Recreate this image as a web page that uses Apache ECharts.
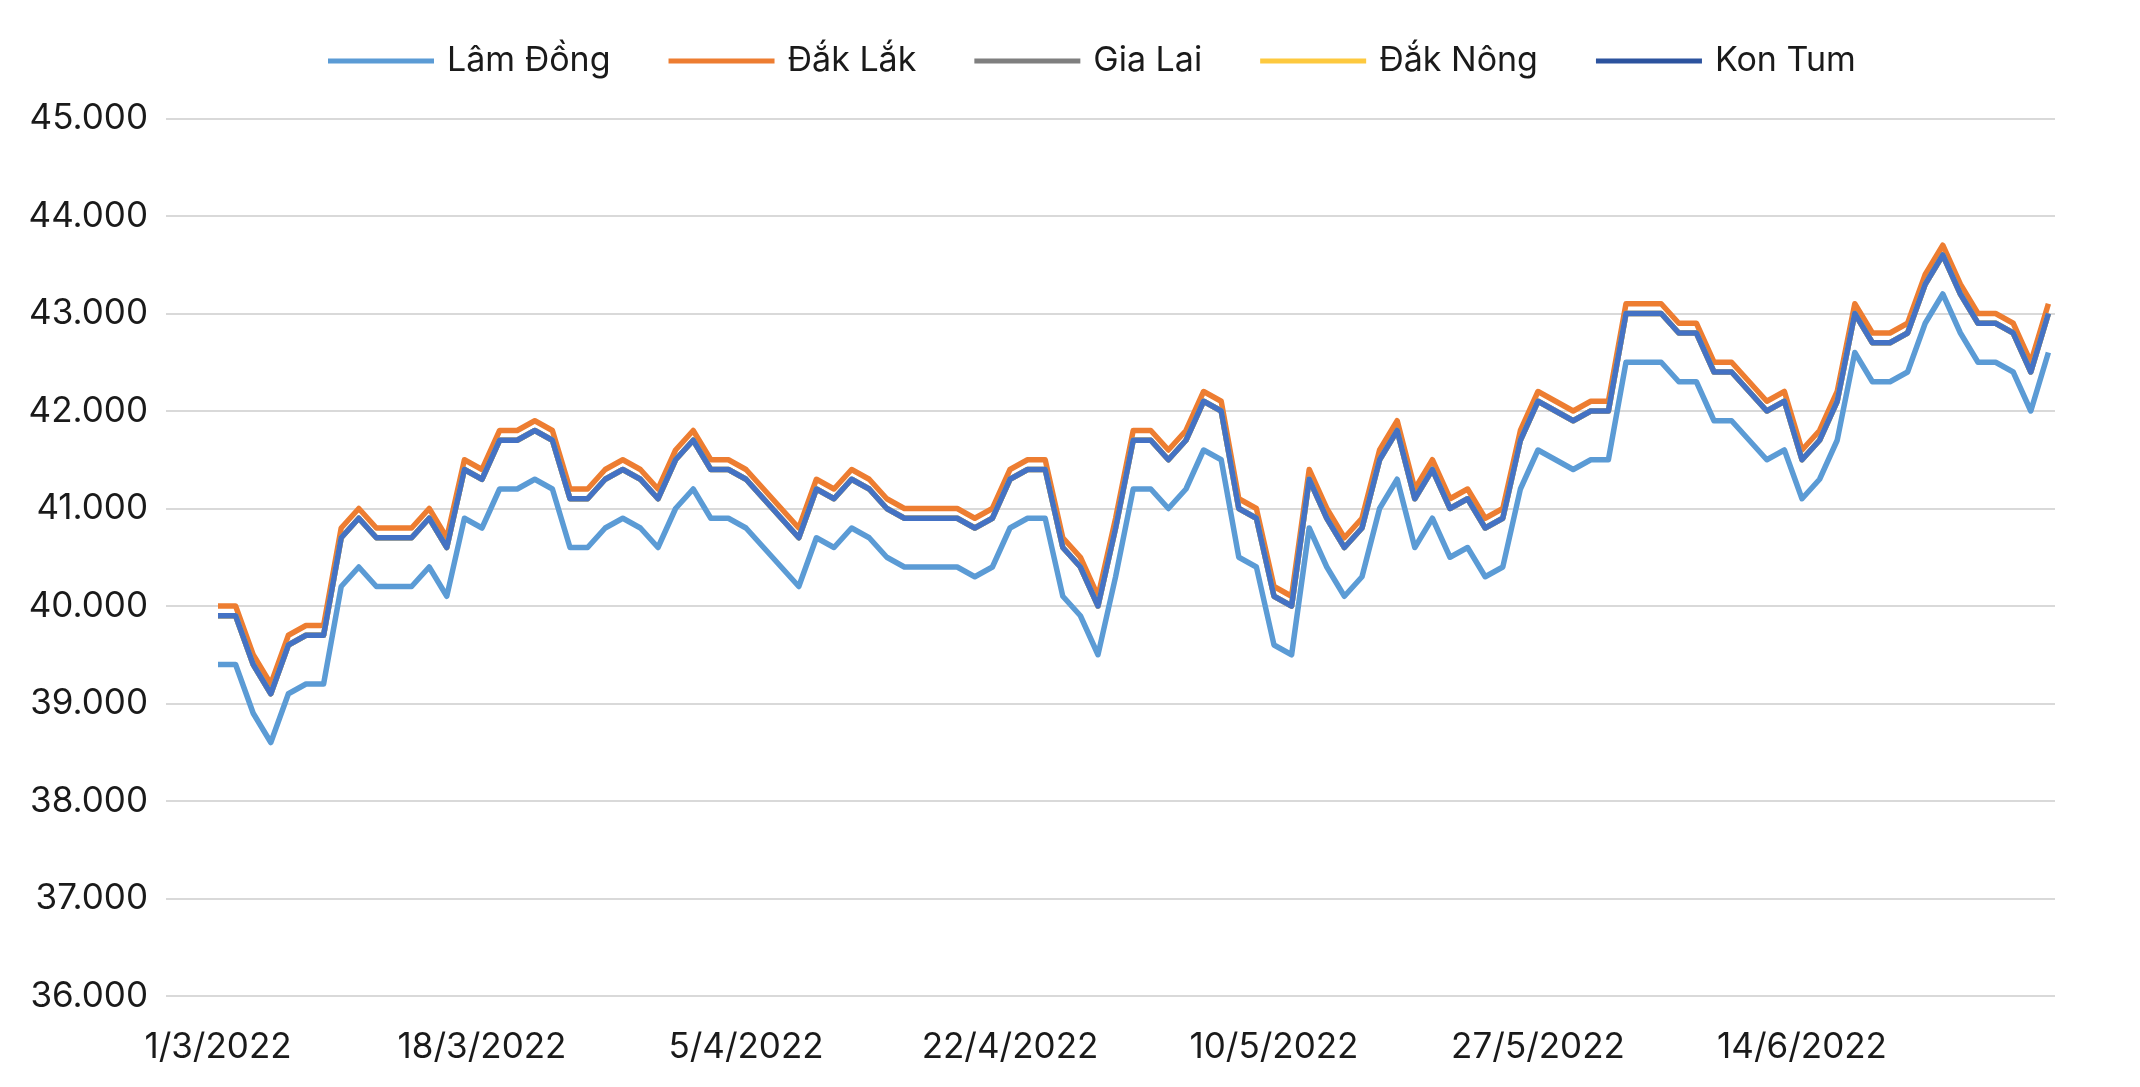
<!DOCTYPE html>
<html>
<head>
<meta charset="utf-8">
<script src="https://cdn.jsdelivr.net/npm/echarts@6/dist/echarts.min.js"></script>
<style>
  html, body { margin: 0; padding: 0; background: #ffffff; }
  #chart { width: 2140px; height: 1087px; }
</style>
</head>
<body>
<div id="chart"></div>
<script>
// Categories: trading days (Mon–Sat), 1/3/2022 – 30/6/2022
var categories = [
  "1/3/2022","2/3/2022","3/3/2022","4/3/2022","5/3/2022","7/3/2022","8/3/2022","9/3/2022","10/3/2022","11/3/2022",
  "12/3/2022","14/3/2022","15/3/2022","16/3/2022","17/3/2022","18/3/2022","19/3/2022","21/3/2022","22/3/2022","23/3/2022",
  "24/3/2022","25/3/2022","26/3/2022","28/3/2022","29/3/2022","30/3/2022","31/3/2022",
  "1/4/2022","2/4/2022","4/4/2022","5/4/2022","6/4/2022","7/4/2022","8/4/2022","9/4/2022","11/4/2022","12/4/2022",
  "13/4/2022","14/4/2022","15/4/2022","16/4/2022","18/4/2022","19/4/2022","20/4/2022","21/4/2022","22/4/2022","23/4/2022",
  "25/4/2022","26/4/2022","27/4/2022","28/4/2022","29/4/2022","30/4/2022",
  "2/5/2022","3/5/2022","4/5/2022","5/5/2022","6/5/2022","7/5/2022","9/5/2022","10/5/2022","11/5/2022","12/5/2022",
  "13/5/2022","14/5/2022","16/5/2022","17/5/2022","18/5/2022","19/5/2022","20/5/2022","21/5/2022","23/5/2022","24/5/2022",
  "25/5/2022","26/5/2022","27/5/2022","28/5/2022","30/5/2022","31/5/2022",
  "1/6/2022","2/6/2022","3/6/2022","4/6/2022","6/6/2022","7/6/2022","8/6/2022","9/6/2022","10/6/2022","11/6/2022",
  "13/6/2022","14/6/2022","15/6/2022","16/6/2022","17/6/2022","18/6/2022","20/6/2022","21/6/2022","22/6/2022","23/6/2022",
  "24/6/2022","25/6/2022","27/6/2022","28/6/2022","29/6/2022","30/6/2022"
];

var lamDong = [
  39400,39400,38900,38600,39100,39200,39200,40200,40400,40200,
  40200,40200,40400,40100,40900,40800,41200,41200,41300,41200,
  40600,40600,40800,40900,40800,40600,41000,41200,40900,40900,
  40800,40600,40400,40200,40700,40600,40800,40700,40500,40400,
  40400,40400,40400,40300,40400,40800,40900,40900,40100,39900,
  39500,40300,41200,41200,41000,41200,41600,41500,40500,40400,
  39600,39500,40800,40400,40100,40300,41000,41300,40600,40900,
  40500,40600,40300,40400,41200,41600,41500,41400,41500,41500,
  42500,42500,42500,42300,42300,41900,41900,41700,41500,41600,
  41100,41300,41700,42600,42300,42300,42400,42900,43200,42800,
  42500,42500,42400,42000,42600
];

var dakLak = [
  40000,40000,39500,39200,39700,39800,39800,40800,41000,40800,
  40800,40800,41000,40700,41500,41400,41800,41800,41900,41800,
  41200,41200,41400,41500,41400,41200,41600,41800,41500,41500,
  41400,41200,41000,40800,41300,41200,41400,41300,41100,41000,
  41000,41000,41000,40900,41000,41400,41500,41500,40700,40500,
  40100,40900,41800,41800,41600,41800,42200,42100,41100,41000,
  40200,40100,41400,41000,40700,40900,41600,41900,41200,41500,
  41100,41200,40900,41000,41800,42200,42100,42000,42100,42100,
  43100,43100,43100,42900,42900,42500,42500,42300,42100,42200,
  41600,41800,42200,43100,42800,42800,42900,43400,43700,43300,
  43000,43000,42900,42500,43100
];

var giaLai = [
  39900,39900,39400,39100,39600,39700,39700,40700,40900,40700,
  40700,40700,40900,40600,41400,41300,41700,41700,41800,41700,
  41100,41100,41300,41400,41300,41100,41500,41700,41400,41400,
  41300,41100,40900,40700,41200,41100,41300,41200,41000,40900,
  40900,40900,40900,40800,40900,41300,41400,41400,40600,40400,
  40000,40800,41700,41700,41500,41700,42100,42000,41000,40900,
  40100,40000,41300,40900,40600,40800,41500,41800,41100,41400,
  41000,41100,40800,40900,41700,42100,42000,41900,42000,42000,
  43000,43000,43000,42800,42800,42400,42400,42200,42000,42100,
  41500,41700,42100,43000,42700,42700,42800,43300,43600,43200,
  42900,42900,42800,42400,43000
];

var dakNong = [
  39900,39900,39400,39100,39600,39700,39700,40700,40900,40700,
  40700,40700,40900,40600,41400,41300,41700,41700,41800,41700,
  41100,41100,41300,41400,41300,41100,41500,41700,41400,41400,
  41300,41100,40900,40700,41200,41100,41300,41200,41000,40900,
  40900,40900,40900,40800,40900,41300,41400,41400,40600,40400,
  40000,40800,41700,41700,41500,41700,42100,42000,41000,40900,
  40100,40000,41300,40900,40600,40800,41500,41800,41100,41400,
  41000,41100,40800,40900,41700,42100,42000,41900,42000,42000,
  43000,43000,43000,42800,42800,42400,42400,42200,42000,42100,
  41500,41700,42100,43000,42700,42700,42800,43300,43600,43200,
  42900,42900,42800,42400,43000
];

var konTum = [
  39900,39900,39400,39100,39600,39700,39700,40700,40900,40700,
  40700,40700,40900,40600,41400,41300,41700,41700,41800,41700,
  41100,41100,41300,41400,41300,41100,41500,41700,41400,41400,
  41300,41100,40900,40700,41200,41100,41300,41200,41000,40900,
  40900,40900,40900,40800,40900,41300,41400,41400,40600,40400,
  40000,40800,41700,41700,41500,41700,42100,42000,41000,40900,
  40100,40000,41300,40900,40600,40800,41500,41800,41100,41400,
  41000,41100,40800,40900,41700,42100,42000,41900,42000,42000,
  43000,43000,43000,42800,42800,42400,42400,42200,42000,42100,
  41500,41700,42100,43000,42700,42700,42800,43300,43600,43200,
  42900,42900,42800,42400,43000
];

var seriesNames = ["Lâm Đồng", "Đắk Lắk", "Gia Lai", "Đắk Nông", "Kon Tum"];
var seriesData = [lamDong, dakLak, giaLai, dakNong, konTum];
var seriesColors = ["#5B9BD5", "#ED7D31", "#7F7F7F", "#FDC93F", "#4472C4"];
var legendColors = ["#5B9BD5", "#ED7D31", "#7F7F7F", "#FDC93F", "#2C539E"];

var yMin = 36000, yMax = 45000, yStep = 1000;
var FONT = "Inter";
var FONT_SIZE = 35;
var LEGEND_FONT_SIZE = 34;
var TEXT_COLOR = "#1a1a1a";

function fmtThousands(v) {
  return String(v).replace(/\B(?=(\d{3})+(?!\d))/g, ".");
}

var chart = echarts.init(document.getElementById("chart"), null, { renderer: "canvas" });

var series = seriesNames.map(function (name, i) {
  return {
    name: name,
    type: "line",
    xAxisIndex: 1,
    yAxisIndex: 1,
    data: seriesData[i],
    symbol: "none",
    smooth: false,
    animation: false,
    itemStyle: { color: seriesColors[i] },
    lineStyle: { color: seriesColors[i], width: 5.5, join: "round" },
    z: 2 + i
  };
});

var option = {
  backgroundColor: "#ffffff",
  animation: false,
  textStyle: { fontFamily: FONT, color: TEXT_COLOR },
  legend: {
    left: 323,
    top: 37,
    icon: "rect",
    itemWidth: 106,
    itemHeight: 5,
    itemGap: 58,
    selectedMode: false,
    textStyle: { fontFamily: FONT, fontSize: LEGEND_FONT_SIZE, color: TEXT_COLOR, padding: [0, 0, 0, 8], lineHeight: 38 },
    data: seriesNames.map(function (n, i) {
      return { name: n, itemStyle: { color: legendColors[i] } };
    })
  },
  grid: [
    { left: 166, right: 85, top: 118.5, bottom: 91 },
    { left: 218, right: 91.6, top: 118.5, bottom: 91 }
  ],
  xAxis: [
    { gridIndex: 0, type: "value", show: false, min: 0, max: 1 },
    {
      gridIndex: 1,
      type: "category",
      data: categories,
      boundaryGap: false,
      axisLine: { show: false },
      axisTick: { show: false },
      splitLine: { show: false },
      axisLabel: {
        interval: 14,
        margin: 34,
        fontFamily: FONT,
        fontSize: FONT_SIZE,
        color: TEXT_COLOR
      }
    }
  ],
  yAxis: [
    {
      gridIndex: 0,
      type: "value",
      min: yMin,
      max: yMax,
      interval: yStep,
      axisLine: { show: false },
      axisTick: { show: false },
      axisLabel: {
        margin: 18,
        fontFamily: FONT,
        fontSize: FONT_SIZE,
        color: TEXT_COLOR,
        formatter: function (v) { return fmtThousands(v); }
      },
      splitLine: { show: true, lineStyle: { color: "#D9D9D9", width: 2 } }
    },
    { gridIndex: 1, type: "value", min: yMin, max: yMax, interval: yStep, show: false }
  ],
  series: series
};

chart.setOption(option);
</script>
</body>
</html>
